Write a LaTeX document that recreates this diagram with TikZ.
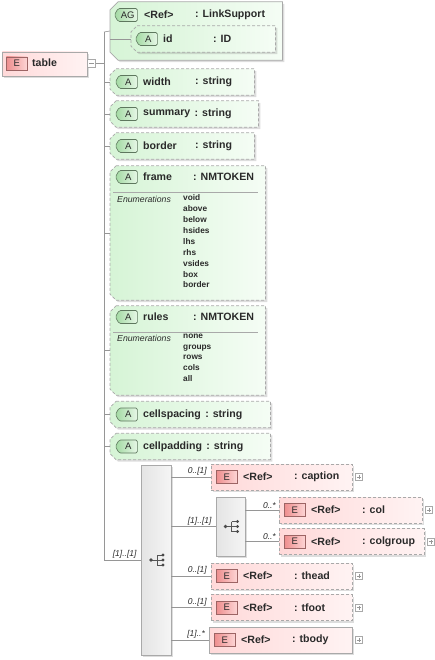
\documentclass[tikz,border=0pt]{standalone}
\usepackage{fontspec}
\setmainfont{Liberation Sans}
\usepackage{tikz}
\usetikzlibrary{shapes.symbols,shadows,positioning,calc}

\definecolor{wirecol}{HTML}{969696}
\definecolor{edgecol}{HTML}{A9A9A9}
\definecolor{elemleft}{HTML}{FFD9D9}
\definecolor{elemright}{HTML}{FFF3F3}
\definecolor{etagleft}{HTML}{EE8E8E}
\definecolor{etagright}{HTML}{FDD5D5}
\definecolor{etagline}{HTML}{9C6464}
\definecolor{attrleft}{HTML}{D6F4D6}
\definecolor{attrright}{HTML}{F5FDF5}
\definecolor{atagleft}{HTML}{A2D9A2}
\definecolor{atagright}{HTML}{E6F7E6}
\definecolor{atagline}{HTML}{5E775E}
\definecolor{seqleft}{HTML}{E4E4E4}
\definecolor{seqright}{HTML}{F5F5F5}
\definecolor{ink}{HTML}{2A2A2A}

\begin{document}
\begin{tikzpicture}[x=1pt, y=-1pt, font=\fontsize{10.6}{12}\selectfont\bfseries, text=ink, inner sep=0pt]
\tikzset{
  boxshadow/.style={drop shadow={shadow xshift=2pt, shadow yshift=-2pt, opacity=0.22, fill=black!60}},
  elembox/.style={rectangle, draw=edgecol, line width=0.7pt, dash pattern=on 3pt off 2pt, left color=elemleft, right color=elemright, boxshadow, minimum height=26pt, anchor=west},
  reqelem/.style={elembox, solid},
  cutframe/.style={draw=edgecol, line width=0.7pt, dash pattern=on 3pt off 2pt, left color=attrleft, right color=attrright, boxshadow},
  attrbox/.style={rectangle, anchor=west, minimum height=26pt, append after command={\pgfextra{\let\cutnode\tikzlastnode
    \pgfinterruptpath
    \path[cutframe, #1] ([xshift=6pt]\cutnode.north west) -- (\cutnode.north east) -- (\cutnode.south east) -- ([xshift=6pt]\cutnode.south west) -- ([yshift=6pt]\cutnode.south west) -- ([yshift=-6pt]\cutnode.north west) -- cycle;
    \endpgfinterruptpath}}},
  attrbox/.default={},
  groupbox/.style={rectangle, anchor=west, append after command={\pgfextra{\let\cutnode\tikzlastnode
    \pgfinterruptpath
    \path[cutframe, solid] ([xshift=8pt]\cutnode.north west) -- (\cutnode.north east) -- (\cutnode.south east) -- ([xshift=8pt]\cutnode.south west) -- ([yshift=8pt]\cutnode.south west) -- ([yshift=-8pt]\cutnode.north west) -- cycle;
    \endpgfinterruptpath}}},
  etag/.style={rectangle, draw=etagline, line width=0.6pt, left color=etagleft, right color=etagright, minimum width=21pt, minimum height=13pt, font=\fontsize{9.5}{10}\selectfont, anchor=west},
  atag/.style={signal, signal to=west, signal pointer angle=120, rounded corners=1.5pt, draw=atagline, line width=0.6pt, left color=atagleft, right color=atagright, minimum width=22pt, minimum height=13pt, font=\fontsize{9.5}{10}\selectfont, anchor=west},
  seqbox/.style={rectangle, draw=edgecol, line width=0.7pt, left color=seqleft, right color=seqright, boxshadow},
  togglebox/.style={rectangle, draw=edgecol, line width=0.5pt, fill=white, minimum size=7pt},
  plusbox/.style={togglebox, anchor=west, path picture={\draw[wirecol, line width=0.5pt] ([xshift=1.5pt]path picture bounding box.west) -- ([xshift=-1.5pt]path picture bounding box.east) ([yshift=-1.5pt]path picture bounding box.north) -- ([yshift=1.5pt]path picture bounding box.south);}},
  minusbox/.style={togglebox, minimum size=8pt, path picture={\draw[wirecol, line width=0.5pt] ([xshift=1.5pt]path picture bounding box.west) -- ([xshift=-1.5pt]path picture bounding box.east);}},
  lbl/.style={anchor=west},
  mult/.style={font=\fontsize{8.5}{9}\selectfont\itshape, anchor=south east},
  enumhead/.style={font=\fontsize{8.7}{9}\selectfont\itshape, anchor=west},
  enumvals/.style={font=\fontsize{8.3}{10.9}\selectfont\bfseries, align=left, anchor=north west},
  wire/.style={draw=wirecol, line width=0.6pt},
  seqicon/.pic={
    \draw[ink!80, line width=0.8pt] (-5,0) -- (1,0) (1,-5) -- (1,5) (1,-5) -- (7,-5) (1,0) -- (7,0) (1,5) -- (7,5);
    \fill[ink!85] (-5,0) circle (1.8pt) (7,-5) circle (1.6pt) (7,0) circle (1.6pt) (7,5) circle (1.6pt);
  },
}
\useasboundingbox (0,0) rectangle (434,660);

% Root element
\node (tbl) [reqelem, minimum width=85pt, minimum height=24pt] at (2,64) {};
\node (tblE) [etag] at (6,63.5) {E};
\node [lbl] at (32,63) {table};
\node (tbltog) [minusbox] at (91.5,63.5) {};
\coordinate (spine) at (104,32);

% Attribute group
\node (ag) [groupbox, minimum width=172pt, minimum height=58pt] at (110,31) {};
\node (agtag) [atag, minimum width=23pt] at (114,15) {AG};
\node [lbl] at (144,14.5) {<Ref>};
\node [lbl] at (195,14.5) {: LinkSupport};
\node (id) [attrbox, minimum width=144pt] at (131,39) {};
\node [atag] at (135,39) {A};
\node [lbl] at (163,39) {id};
\node [lbl] at (213,39) {: ID};

% Attributes
\node (wid) [attrbox, minimum width=144pt] at (110,82) {};
\node [atag] at (115,82) {A};
\node [lbl] at (143,82) {width};
\node [lbl] at (195,82) {: string};

\node (sum) [attrbox, minimum width=148pt] at (110,114) {};
\node [atag] at (115,114) {A};
\node (sumN) [lbl] at (143,114) {summary};
\node [lbl, right=4pt of sumN] {: string};

\node (brd) [attrbox, minimum width=144pt] at (110,146) {};
\node [atag] at (115,146) {A};
\node [lbl] at (143,146) {border};
\node [lbl] at (195,146) {: string};

\node (frm) [attrbox, minimum width=155pt, minimum height=134pt] at (110,233) {};
\node [atag] at (115,177) {A};
\node [lbl] at (143,177) {frame};
\node [lbl] at (193,177) {: NMTOKEN};
\draw [wire, draw=edgecol] (113,192) -- (258,192);
\node [enumhead] at (117,199.5) {Enumerations};
\node [enumvals] at (183,194.5) {void\\above\\below\\hsides\\lhs\\rhs\\vsides\\box\\border};

\node (rul) [attrbox, minimum width=155pt, minimum height=89pt] at (110,350.5) {};
\node [atag] at (115,317) {A};
\node [lbl] at (143,317) {rules};
\node [lbl] at (193,317) {: NMTOKEN};
\draw [wire, draw=edgecol] (113,332) -- (258,332);
\node [enumhead] at (117,338.5) {Enumerations};
\node [enumvals] at (183,333.5) {none\\groups\\rows\\cols\\all};

\node (csp) [attrbox, minimum width=160pt] at (110,414.5) {};
\node [atag] at (115,414.5) {A};
\node (cspN) [lbl] at (143,414.5) {cellspacing};
\node [lbl, right=4pt of cspN] {: string};

\node (cpd) [attrbox, minimum width=160pt] at (110,446.5) {};
\node [atag] at (115,446.5) {A};
\node (cpdN) [lbl] at (143,446.5) {cellpadding};
\node [lbl, right=4pt of cpdN] {: string};

% Content model
\node (seq) [seqbox, minimum width=30pt, minimum height=190pt] at (156,560) {};
\pic at (seq.center) {seqicon};
\node (iseq) [seqbox, minimum width=29pt, minimum height=59pt] at (230.5,526.5) {};
\pic at (iseq.center) {seqicon};

\node (cap) [elembox, minimum width=141pt] at (211,477) {};
\node (col) [elembox, minimum width=143pt] at (279,510) {};
\node (cgp) [elembox, minimum width=145pt] at (279,541.5) {};
\node (thd) [elembox, minimum width=141pt] at (211,576) {};
\node (tft) [elembox, minimum width=141pt] at (211,607.5) {};
\node (tby) [reqelem, minimum width=143pt] at (209,640) {};

\foreach \el/\nm in {cap/caption, col/col, cgp/colgroup, thd/thead, tft/tfoot, tby/tbody} {
  \node [etag] at ([xshift=5pt]\el.west) {E};
  \node [lbl] at ([xshift=32pt]\el.west) {<Ref>};
  \node [lbl] at ([xshift=83pt]\el.west) {: \nm};
  \node [plusbox] at ([xshift=2.5pt]\el.east) {};
}

% Connectors
\draw [wire] (tbltog.east) -- (tbltog.east -| spine);
\draw [wire] (spine) -- (ag.west);
\draw [wire] (id.west -| ag.west) -- (id.west);
\draw [wire] (spine) -- (seq.west -| spine);
\foreach \at in {wid, sum, brd, frm, rul, csp, cpd}
  \draw [wire] (\at.west -| spine) -- (\at.west);
\draw [wire] (seq.west -| spine) -- (seq.west);
\foreach \el in {cap, iseq, thd, tft, tby}
  \draw [wire] (\el.west -| seq.east) -- (\el.west);
\foreach \el in {col, cgp}
  \draw [wire] (\el.west -| iseq.east) -- (\el.west);

% Multiplicities
\node [mult] at ([xshift=-4pt, yshift=1.5pt]seq.west) {[1]..[1]};
\node [mult] at ([xshift=-4pt, yshift=1.5pt]cap.west) {0..[1]};
\node [mult] at ([xshift=-4pt, yshift=1.5pt]iseq.west) {[1]..[1]};
\node [mult] at ([xshift=-3pt, yshift=1.5pt]col.west) {0..*};
\node [mult] at ([xshift=-3pt, yshift=1.5pt]cgp.west) {0..*};
\node [mult] at ([xshift=-4pt, yshift=1.5pt]thd.west) {0..[1]};
\node [mult] at ([xshift=-4pt, yshift=1.5pt]tft.west) {0..[1]};
\node [mult] at ([xshift=-4pt, yshift=1.5pt]tby.west) {[1]..*};

\end{tikzpicture}
\end{document}
